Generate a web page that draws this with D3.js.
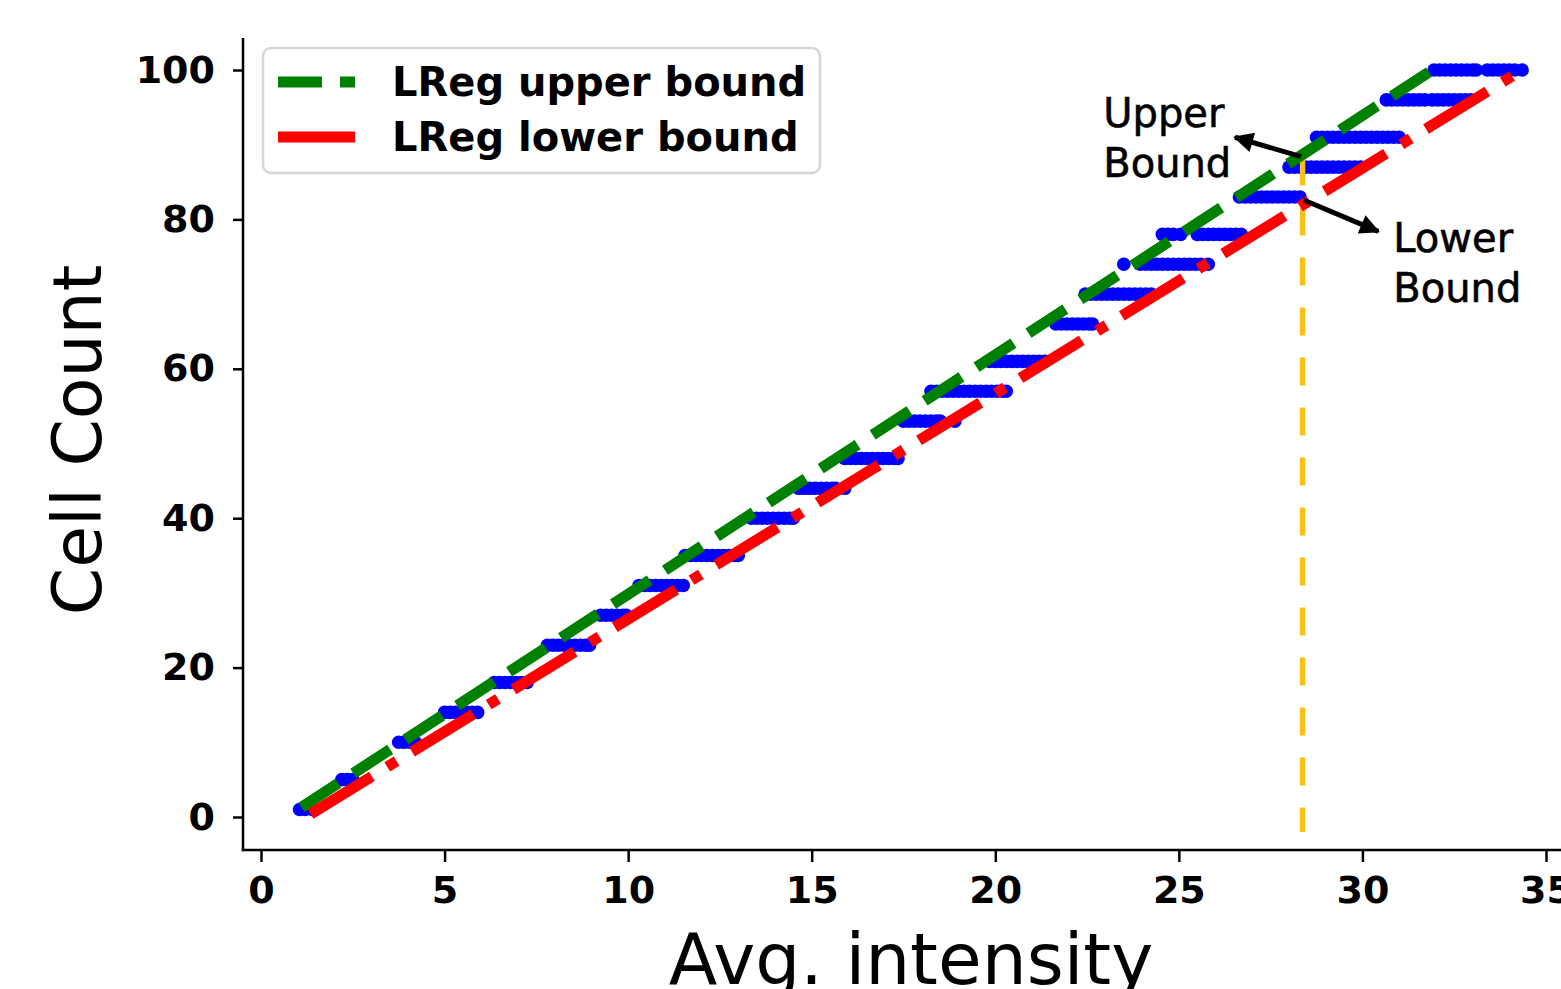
<!DOCTYPE html>
<html>
<head>
<meta charset="utf-8">
<script src="https://cdn.jsdelivr.net/npm/d3@7"></script>
<style>
  html, body { margin: 0; padding: 0; background: #fff; overflow: hidden; }
  svg { display: block; font-family: "DejaVu Sans", sans-serif; }
</style>
</head>
<body>
<div id="chart"></div>
<script>
// --- data ---
const xTicks = [0, 5, 10, 15, 20, 25, 30, 35];
const yTicks = [0, 20, 40, 60, 80, 100];

// cell count levels and the avg. intensities measured at each level
const levels = [1, 5, 10, 14, 18, 23, 27, 31, 35, 40, 44, 48, 53, 57, 61, 66, 70, 74, 78, 83, 87, 91, 96, 100];
const intensities = [
  [1.05, 1.2, 1.4],
  [2.2, 2.35, 2.5],
  [3.75, 3.9, 4.05, 4.2],
  [5.0, 5.15, 5.3, 5.45, 5.6, 5.75, 5.9],
  [6.35, 6.5, 6.65, 6.8, 6.95, 7.1, 7.25],
  [7.8, 7.95, 8.1, 8.25, 8.4, 8.55, 8.7, 8.85, 8.95],
  [9.25, 9.4, 9.55, 9.7, 9.85, 9.95],
  [10.3, 10.45, 10.6, 10.75, 10.9, 11.05, 11.2, 11.35, 11.5],
  [11.55, 11.7, 11.85, 12.0, 12.15, 12.3, 12.45, 12.6, 12.75, 12.9, 13.0],
  [13.35, 13.5, 13.65, 13.8, 13.95, 14.1, 14.25, 14.4, 14.5],
  [14.65, 14.8, 14.95, 15.1, 15.25, 15.4, 15.55, 15.65, 15.9],
  [15.9, 16.05, 16.2, 16.35, 16.5, 16.65, 16.8, 16.95, 17.1, 17.25, 17.35],
  [17.5, 17.65, 17.8, 17.95, 18.1, 18.25, 18.4, 18.5, 18.9],
  [18.25, 18.4, 18.55, 18.7, 18.85, 19.0, 19.15, 19.3, 19.45, 19.6, 19.75, 19.9, 20.05, 20.2, 20.3],
  [19.85, 20.0, 20.15, 20.3, 20.45, 20.6, 20.75, 20.9, 21.05, 21.2, 21.35],
  [21.65, 21.8, 21.95, 22.1, 22.25, 22.4, 22.55, 22.65],
  [22.45, 22.6, 22.75, 22.9, 23.05, 23.2, 23.35, 23.5, 23.65, 23.8, 23.95, 24.1, 24.25],
  [23.5, 23.95, 24.1, 24.25, 24.4, 24.55, 24.7, 24.85, 25.0, 25.15, 25.3, 25.45, 25.6, 25.8],
  [24.55, 24.7, 24.85, 25.05, 25.5, 25.65, 25.8, 25.95, 26.1, 26.25, 26.4, 26.55, 26.7],
  [26.65, 26.8, 26.95, 27.1, 27.25, 27.4, 27.55, 27.7, 27.85, 28.0, 28.15, 28.3],
  [28.0, 28.15, 28.3, 28.45, 28.6, 28.75, 28.9, 29.05, 29.2, 29.35, 29.5, 29.65, 29.8, 29.95],
  [28.75, 28.9, 29.05, 29.2, 29.35, 29.5, 29.65, 29.8, 29.95, 30.1, 30.25, 30.4, 30.55, 30.7, 30.85, 31.0],
  [30.65, 30.8, 30.95, 31.1, 31.25, 31.4, 31.55, 31.7, 31.9, 32.05, 32.2, 32.35, 32.5, 32.65, 32.8, 32.95],
  [31.95, 32.1, 32.25, 32.4, 32.55, 32.7, 32.85, 33.0, 33.1, 33.4, 33.55, 33.7, 33.85, 34.0, 34.15, 34.35]
];

// regression bounds (endpoints)
const upperBound = [[1.1, 1.3], [31.9, 100]];
const lowerBound = [[1.35, 0.4], [34.35, 100]];

// vertical cutoff
const cutoffX = 28.37;
const cutoffY = [88.3, -2];

// annotations: arrow from point on line to text
const annotations = [
  { lines: ["Upper", "Bound"], text: [22.94, 92.4], from: [28.33, 88.4], to: [26.53, 91.0] },
  { lines: ["Lower", "Bound"], text: [30.84, 75.6], from: [28.4, 82.6], to: [30.43, 78.4] }
];

const legendItems = [
  { label: "LReg upper bound", color: "green", dash: "44,18" },
  { label: "LReg lower bound", color: "red", dash: null }
];

// --- layout ---
const width = 1561, height = 989;
const plotLeft = 243, plotBottom = 850, plotTop = 38;

const x = d3.scaleLinear().domain([0, 35]).range([261, 1546]);
const y = d3.scaleLinear().domain([0, 100]).range([817, 70]);

const svg = d3.select("#chart").append("svg")
  .attr("width", width)
  .attr("height", height);

const defs = svg.append("defs");
defs.append("marker")
  .attr("id", "head")
  .attr("viewBox", "0 0 10 10")
  .attr("refX", 9).attr("refY", 5)
  .attr("markerUnits", "userSpaceOnUse")
  .attr("markerWidth", 24).attr("markerHeight", 20)
  .attr("orient", "auto")
  .append("path")
  .attr("d", "M0,0 L10,5 L0,10 Z")
  .attr("fill", "black");

// scatter points
const points = [];
levels.forEach((lv, i) => intensities[i].forEach(v => points.push({ x: v, y: lv })));

svg.append("g")
  .selectAll("circle")
  .data(points)
  .enter().append("circle")
  .attr("cx", d => x(d.x))
  .attr("cy", d => y(d.y))
  .attr("r", 6.8)
  .attr("fill", "#0000ff");

// cutoff line
svg.append("line")
  .attr("x1", x(cutoffX)).attr("x2", x(cutoffX))
  .attr("y1", y(cutoffY[0])).attr("y2", y(cutoffY[1]))
  .attr("stroke", "#fbbf1a")
  .attr("stroke-width", 5.5)
  .attr("stroke-dasharray", "28,22");

const line = d3.line().x(d => x(d[0])).y(d => y(d[1]));

svg.append("path")
  .attr("d", line(upperBound))
  .attr("fill", "none")
  .attr("stroke", "green")
  .attr("stroke-width", 11)
  .attr("stroke-dasharray", "44,18");

svg.append("path")
  .attr("d", line(lowerBound))
  .attr("fill", "none")
  .attr("stroke", "red")
  .attr("stroke-width", 11)
  .attr("stroke-dasharray", "72,18,11,18");

// annotations
annotations.forEach(a => {
  svg.append("line")
    .attr("x1", x(a.from[0])).attr("y1", y(a.from[1]))
    .attr("x2", x(a.to[0])).attr("y2", y(a.to[1]))
    .attr("stroke", "black")
    .attr("stroke-width", 5)
    .attr("marker-end", "url(#head)");
  const t = svg.append("text")
    .attr("x", x(a.text[0]))
    .attr("y", y(a.text[1]))
    .style("font-size", "40px")
    .style("fill", "black")
    .style("stroke", "black")
    .style("stroke-width", 0.6);
  a.lines.forEach((s, i) => {
    t.append("tspan").attr("x", x(a.text[0])).attr("dy", i === 0 ? 0 : 50).text(s);
  });
});

// axes
const yAxis = svg.append("g")
  .attr("transform", `translate(${plotLeft},0)`)
  .call(d3.axisLeft(y).tickValues(yTicks).tickSize(10).tickPadding(18).tickFormat(d3.format("d")));
yAxis.select(".domain").remove();
yAxis.selectAll(".tick line").attr("stroke", "black").attr("stroke-width", 2.5);
yAxis.selectAll(".tick text")
  .style("font-size", "38px").style("font-weight", "bold")
  .style("font-family", "DejaVu Sans").attr("fill", "black");

const xAxis = svg.append("g")
  .attr("transform", `translate(0,${plotBottom})`)
  .call(d3.axisBottom(x).tickValues(xTicks).tickSize(12).tickPadding(14).tickFormat(d3.format("d")));
xAxis.select(".domain").remove();
xAxis.selectAll(".tick line").attr("stroke", "black").attr("stroke-width", 2.5);
xAxis.selectAll(".tick text")
  .style("font-size", "38px").style("font-weight", "bold")
  .style("font-family", "DejaVu Sans").attr("fill", "black");

// spines
svg.append("line")
  .attr("x1", plotLeft).attr("x2", plotLeft)
  .attr("y1", plotTop).attr("y2", plotBottom + 1.25)
  .attr("stroke", "black").attr("stroke-width", 2.5);
svg.append("line")
  .attr("x1", plotLeft - 1.25).attr("x2", width + 10)
  .attr("y1", plotBottom).attr("y2", plotBottom)
  .attr("stroke", "black").attr("stroke-width", 2.5);

// axis labels
svg.append("text")
  .attr("x", 911).attr("y", 984)
  .attr("text-anchor", "middle")
  .style("font-size", "71px")
  .text("Avg. intensity");

svg.append("text")
  .attr("transform", "translate(101,440) rotate(-90)")
  .attr("text-anchor", "middle")
  .style("font-size", "68px")
  .text("Cell Count");

// legend
const legend = svg.append("g");
legend.append("rect")
  .attr("x", 263).attr("y", 48)
  .attr("width", 557).attr("height", 125)
  .attr("rx", 8)
  .attr("fill", "white").attr("fill-opacity", 0.8)
  .attr("stroke", "#d6d6d6").attr("stroke-width", 2.5);

legendItems.forEach((d, i) => {
  const ly = 82 + i * 55;
  legend.append("line")
    .attr("x1", 278).attr("x2", 355)
    .attr("y1", ly).attr("y2", ly)
    .attr("stroke", d.color)
    .attr("stroke-width", 11)
    .attr("stroke-dasharray", d.dash);
  legend.append("text")
    .attr("x", 392).attr("y", ly + 14)
    .style("font-size", "40px")
    .style("font-weight", "bold")
    .text(d.label);
});
</script>
</body>
</html>
